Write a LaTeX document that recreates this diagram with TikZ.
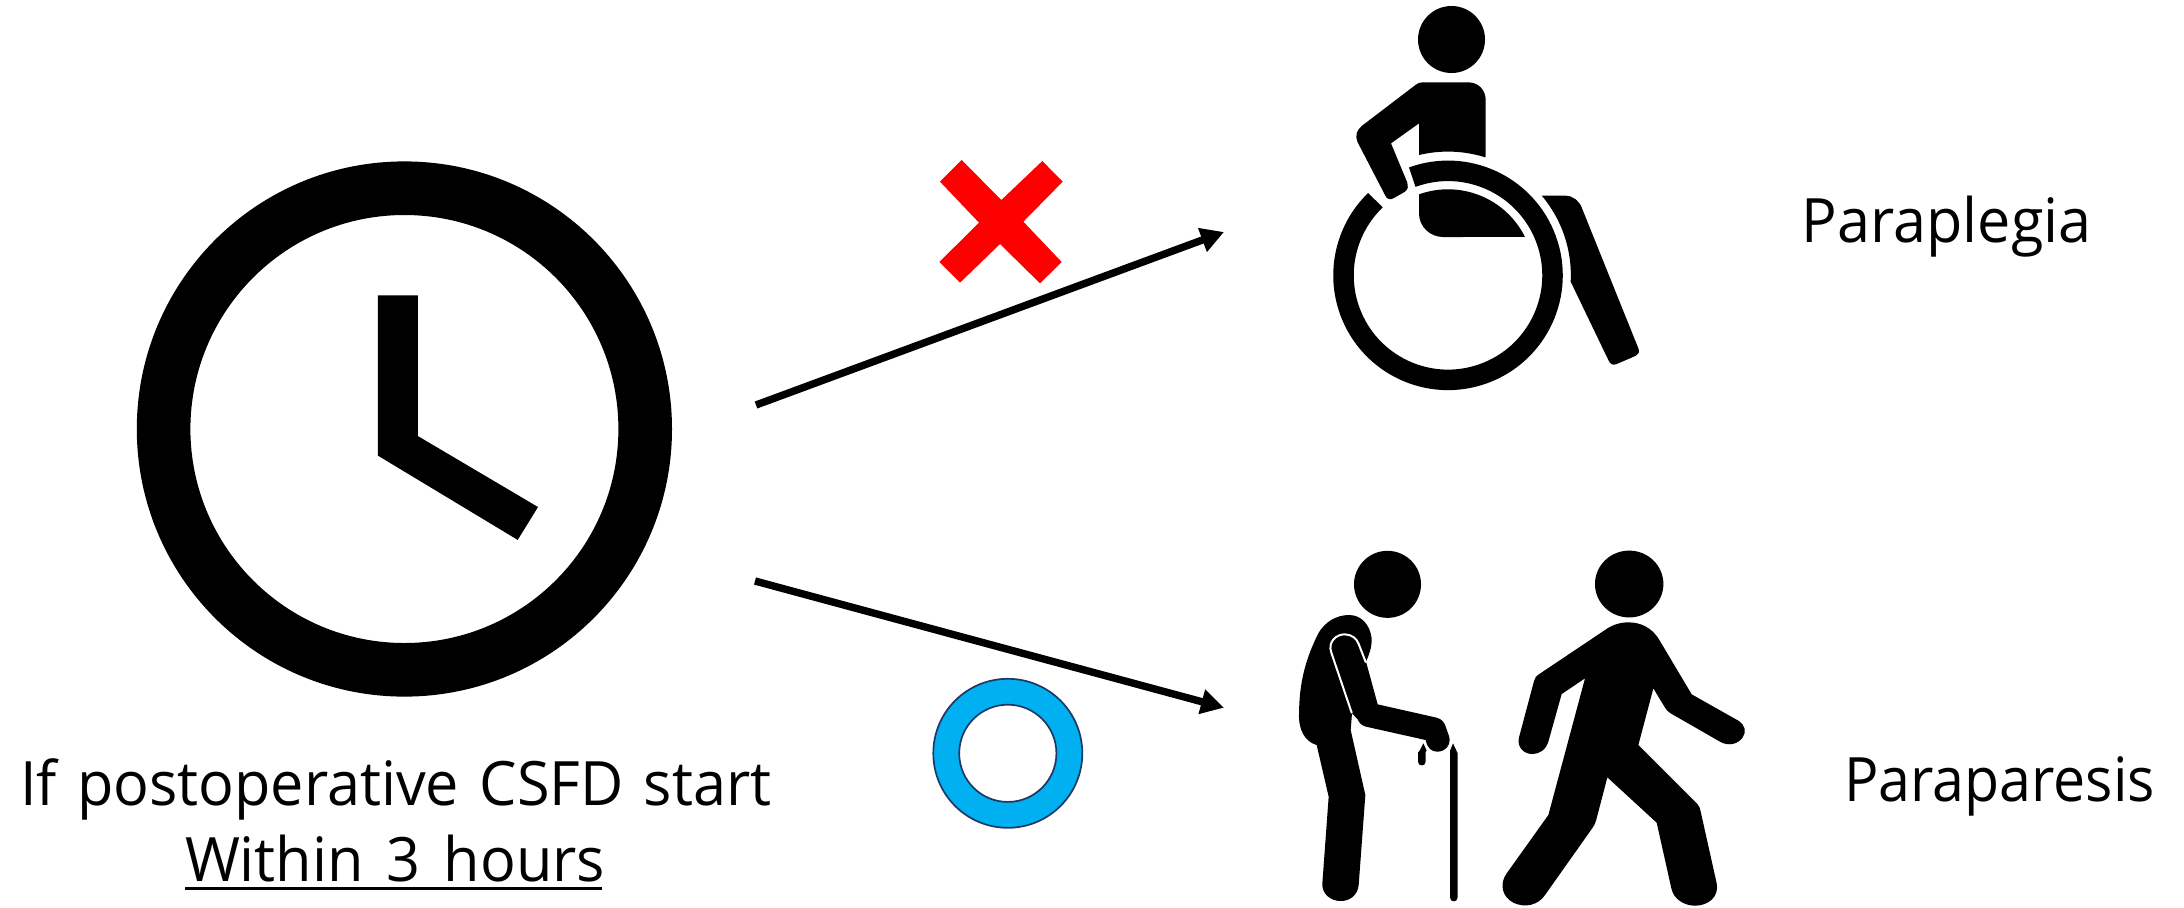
\documentclass[tikz,border=0pt]{standalone}
\usepackage{fontspec}
\setmainfont{Open Sans}
\newfontfamily\lineface[FakeStretch=0.97]{Open Sans}
\newfontfamily\plegface[FakeStretch=0.969]{Open Sans}
\newfontfamily\pparface[FakeStretch=0.936]{Open Sans}
\usetikzlibrary{arrows.meta}
\definecolor{ringblue}{HTML}{00B0F0}
\definecolor{ringedge}{HTML}{1F3864}
\tikzset{
  label text/.style={anchor=base west,inner sep=0pt,outer sep=0pt,text=black},
  conn/.style={draw=black,line width=3.7pt,-{Triangle[length=11.5pt,width=12pt]}},
  ink/.style={fill=black,draw=none},
  sil/.style={shift={#1},x=0.166667pt,y=-0.166667pt}
}
\begin{document}
\begin{tikzpicture}[x=0.5pt,y=-0.5pt]
\useasboundingbox (0,0) rectangle (2184,907);
\fill[white] (0,0) rectangle (2184,907);

% clock
\fill[black,even odd rule] (404.4,429) circle[radius=133.8pt] (404.4,429) circle[radius=107pt];
\fill[black] (377.9,295.4) -- (417.8,295.4) -- (417.8,436) -- (538,507) -- (517.7,539.9) -- (377.9,455.6) -- cycle;

% red cross
\begin{scope}[sil={(880,140)}]
\fill[red] (245,60) -- (364,180) -- (487,63) -- (548,125) -- (430,245) -- (545,366) -- (480,430) -- (360,312) -- (240,428) -- (178,366) -- (297,248) -- (180,125) -- cycle;
\end{scope}

% ring
\draw[ringedge,fill=ringblue,line width=0.85pt,even odd rule] (1007.8,753.3) circle[radius=37.25pt] (1007.8,753.3) circle[radius=24.3pt];

% arrows
\coordinate (a1s) at (756,405);
\coordinate (a1e) at (1224,232);
\coordinate (a2s) at (755,581);
\coordinate (a2e) at (1224,707.7);
\draw[conn] (a1s) -- (a1e);
\draw[conn] (a2s) -- (a2e);

% wheelchair user
\begin{scope}[sil={(1300,0)}]
\fill[ink] (454.5,118.5) circle[radius=16.75pt];
\draw[black,line width=10.25pt] (444,826) ++(110:52.25pt) arc[start angle=110,end angle=-226,radius=52.25pt];
% torso and arm
\fill[ink] (557,468) -- (557,300) .. controls (557,270) and (535,247) .. (505,247) -- (370,247)
  .. controls (358,247) and (350,251) .. (345,256) -- (185,378) .. controls (170,390) and (165,408) .. (172,425)
  -- (255,585) .. controls (260,598) and (270,600) .. (280,595) -- (315,575) .. controls (325,568) and (325,557) .. (322,548)
  -- (273,430) -- (357,370) -- (357,465) arc[start angle=103.5,end angle=72.5,radius=62pt] -- cycle;
% lap
\fill[ink] (357,583) arc[start angle=109.7,end angle=26.5,radius=43pt] -- (430,711) .. controls (390,711) and (357,680) .. (357,640) -- cycle;
% leg
\fill[ink] (812,845) arc[start angle=-3,end angle=40.2,radius=61.7pt] -- (795,587)
  .. controls (820,587) and (838,603) .. (846,625) -- (1015,1045) .. controls (1020,1057) and (1015,1063) .. (1008,1067)
  -- (950,1092) .. controls (938,1097) and (930,1092) .. (925,1080) -- cycle;
\end{scope}

% walkers
\begin{scope}[sil={(1280,530)}]
% older person
\fill[ink] (322.5,163) circle[radius=16.75pt];
\fill[ink] (207,255) .. controls (245,255) and (270,285) .. (275,325) .. controls (276,350) and (268,372) .. (258,395)
  -- (293,523) -- (470,563) .. controls (485,567) and (493,577) .. (497,590) -- (507,618)
  .. controls (515,645) and (495,665) .. (472,665) .. controls (455,665) and (442,655) .. (437,630)
  -- (258,590) .. controls (245,587) and (237,578) .. (233,568) -- (216,550) -- (212,600) -- (256,795) -- (236,1065)
  .. controls (233,1095) and (210,1113) .. (182,1113) .. controls (150,1113) and (125,1090) .. (127,1060)
  -- (146,800) -- (110,645) .. controls (75,635) and (55,600) .. (57,550)
  .. controls (58,460) and (75,390) .. (115,310) .. controls (135,275) and (170,255) .. (207,255) -- cycle;
\draw[white,line width=1pt,line cap=round] (215,548) -- (154,368) .. controls (142,335) and (170,312) .. (195,313)
  .. controls (215,314) and (230,325) .. (236,342) -- (257,396);
% cane
\fill[ink] (430,640) -- (440,662) -- (437,665) -- (437,695) .. controls (437,710) and (414,710) .. (414,695) -- (414,668) -- (420,660) -- cycle;
\fill[ink] (519,640) -- (533,670) -- (533,1102) .. controls (533,1118) and (510,1118) .. (510,1102) -- (510,662) -- cycle;
% walking person
\fill[ink] (1047.5,162) ellipse[x radius=17.1pt,y radius=16.7pt];
\fill[ink] (1045,277) .. controls (1085,277) and (1115,295) .. (1135,325) -- (1235,493) -- (1375,572)
  .. controls (1395,585) and (1400,605) .. (1388,622) .. controls (1375,642) and (1345,650) .. (1320,635)
  -- (1172,550) .. controls (1163,545) and (1158,538) .. (1155,533) -- (1120,475) -- (1075,645) -- (1252,822)
  .. controls (1258,828) and (1260,835) .. (1262,845) -- (1310,1060) .. controls (1318,1100) and (1285,1127) .. (1245,1127)
  .. controls (1210,1127) and (1180,1105) .. (1174,1075) -- (1130,878) -- (982,742) -- (948,872)
  .. controls (945,882) and (942,888) .. (935,897) -- (795,1095) .. controls (775,1125) and (735,1135) .. (700,1118)
  .. controls (665,1100) and (658,1060) .. (680,1030) -- (805,855) -- (915,445) -- (845,492) -- (805,635)
  .. controls (797,660) and (778,672) .. (757,672) .. controls (730,672) and (710,650) .. (717,622)
  -- (762,453) .. controls (765,443) and (768,438) .. (778,432) -- (975,300) .. controls (995,285) and (1020,277) .. (1045,277) -- cycle;
\end{scope}

% labels
\node[label text,font=\lineface\fontsize{30.6}{36}\selectfont] (t1) at (20,805) {\spaceskip=10.2pt If postoperative CSFD start};
\node[label text,font=\lineface\fontsize{30.6}{36}\selectfont] (t2) at (185,881.7) {\spaceskip=11.5pt Within 3 hours};
\node[label text,font=\plegface\fontsize{30.6}{36}\selectfont] (t3) at (1801.7,242) {Paraplegia};
\node[label text,font=\pparface\fontsize{30.6}{36}\selectfont] (t4) at (1844,801.7) {Paraparesis};
\coordinate (ul1) at (185,888.6);
\coordinate (ul2) at (602,888.6);
\draw[black,line width=1.3pt] (ul1) -- (ul2);
\end{tikzpicture}
\end{document}
